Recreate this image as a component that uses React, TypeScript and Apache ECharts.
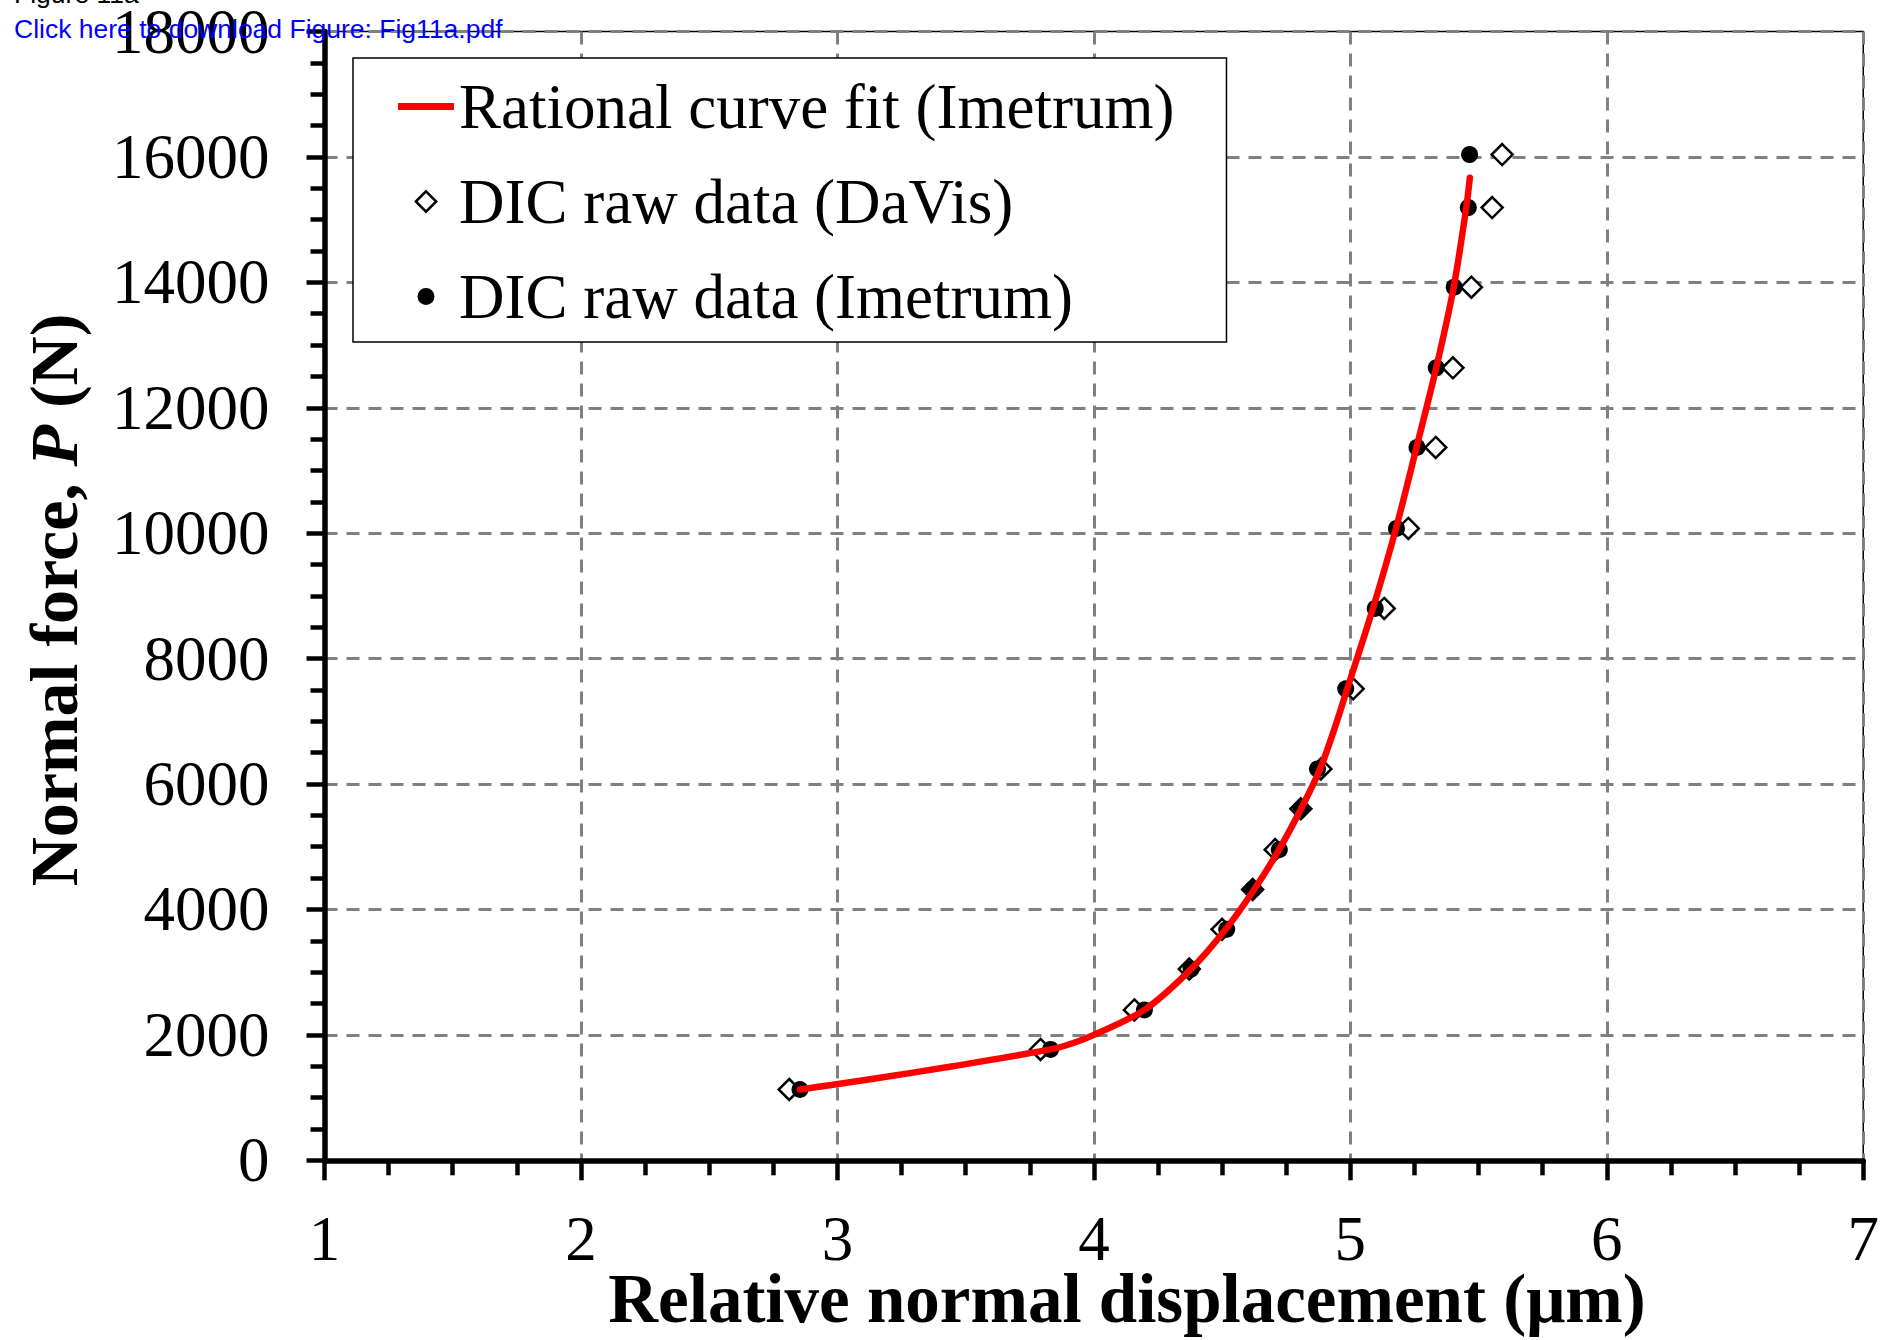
import React, { useEffect, useRef } from 'react';
import * as echarts from 'echarts';

// ---- data ----
const xTicks = [1, 2, 3, 4, 5, 6, 7];
const yTicks = [0, 2000, 4000, 6000, 8000, 10000, 12000, 14000, 16000, 18000];

const seriesNames = ['Rational curve fit (Imetrum)', 'DIC raw data (DaVis)', 'DIC raw data (Imetrum)'];

const curveX = [2.854, 3.14, 3.45, 3.831, 3.92, 4.0, 4.197, 4.379, 4.514, 4.625, 4.722, 4.808, 4.882, 4.938, 4.988, 5.088, 5.178, 5.258, 5.335, 5.403, 5.452, 5.466];
const curveP = [1129, 1300, 1500, 1768, 1870, 2000, 2398, 3049, 3684, 4319, 4954, 5605, 6240, 6880, 7519, 8800, 10075, 11367, 12637, 13922, 15192, 15668];

const davisX = [2.812, 3.792, 4.158, 4.372, 4.5, 4.619, 4.707, 4.807, 4.885, 5.011, 5.132, 5.226, 5.333, 5.4, 5.472, 5.553, 5.592];
const davisP = [1129, 1768, 2398, 3049, 3684, 4319, 4954, 5605, 6240, 7519, 8800, 10075, 11367, 12637, 13922, 15192, 16038];

const imetrumX = [2.854, 3.831, 4.197, 4.379, 4.518, 4.619, 4.723, 4.807, 4.872, 4.982, 5.097, 5.18, 5.26, 5.335, 5.405, 5.46, 5.465];
const imetrumP = [1129, 1768, 2398, 3049, 3684, 4319, 4954, 5605, 6240, 7519, 8800, 10075, 11367, 12637, 13922, 15192, 16038];

const xTitle = 'Relative normal displacement (μm)';
const headerLine1 = 'Figure 11a';
const headerLine2 = 'Click here to download Figure: Fig11a.pdf';

const SERIF = '"Liberation Serif", "Times New Roman", serif';
const SANS = '"Liberation Sans", Arial, sans-serif';

const zip = (xs: number[], ys: number[]) => xs.map((x, i) => [x, ys[i]]);

export default function App() {
  const ref = useRef<HTMLDivElement>(null);

  useEffect(() => {
    const chart = echarts.init(ref.current!, null, { renderer: 'svg' });

    const axisCommon = {
      type: 'value' as const,
      axisLine: { show: true, onZero: false, lineStyle: { color: '#000', width: 5.5 } },
      splitLine: { show: true, lineStyle: { color: '#808080', width: 3, type: [13, 9] } },
    };
    const labelStyle = {
      fontFamily: SERIF,
      fontSize: 63,
      color: '#000',
      formatter: (v: number) => String(v),
    };

    const option: any = {
      animation: false,
      backgroundColor: '#fff',
      grid: {
        left: 324.5,
        right: 16.3,
        top: 27.5,
        bottom: 179.7,
        show: true,
        borderColor: '#000',
        borderWidth: 1.5,
        containLabel: false,
      },
      xAxis: {
        ...axisCommon,
        min: xTicks[0],
        max: xTicks[xTicks.length - 1],
        interval: xTicks[1] - xTicks[0],
        axisTick: { show: true, length: 20, lineStyle: { color: '#000', width: 4.5 } },
        minorTick: { show: true, splitNumber: 4, length: 15, lineStyle: { color: '#000', width: 4.5 } },
        axisLabel: { ...labelStyle, margin: 47 },
      },
      yAxis: {
        ...axisCommon,
        min: yTicks[0],
        max: yTicks[yTicks.length - 1],
        interval: yTicks[1] - yTicks[0],
        axisTick: { show: true, length: 18, lineStyle: { color: '#000', width: 4.5 } },
        minorTick: { show: true, splitNumber: 4, length: 14, lineStyle: { color: '#000', width: 4.5 } },
        axisLabel: { ...labelStyle, margin: 55 },
      },
      legend: {
        left: 353,
        top: 58,
        orient: 'vertical',
        padding: [17, 52, 14, 45],
        itemGap: 32,
        itemWidth: 56,
        itemHeight: 22,
        borderColor: '#000',
        borderWidth: 1.5,
        backgroundColor: '#fff',
        selectedMode: false,
        textStyle: { fontFamily: SERIF, fontSize: 63, color: '#000' },
        data: [
          { name: seriesNames[0], icon: 'path://M0,0L56,0L56,7L0,7Z', itemStyle: { color: '#ff0000', borderWidth: 0, opacity: 1 } },
          {
            name: seriesNames[1],
            icon: 'path://M0,0M22,22M11,0.8L21.2,11L11,21.2L0.8,11Z',
            itemStyle: { color: '#fff', borderColor: '#000', borderWidth: 2.5, opacity: 1 },
          },
          {
            name: seriesNames[2],
            icon: 'path://M0,0M22,22M19.5,11A8.5,8.5,0,1,1,2.5,11A8.5,8.5,0,1,1,19.5,11Z',
            itemStyle: { color: '#000', borderWidth: 0, opacity: 1 },
          },
        ],
      },
      series: [
        {
          name: seriesNames[0],
          type: 'line',
          data: zip(curveX, curveP),
          showSymbol: false,
          symbol: 'none',
          smooth: 0.3,
          lineStyle: { color: '#ff0000', width: 6.5, cap: 'round', join: 'round' },
          itemStyle: { color: '#ff0000' },
        },
        {
          name: seriesNames[1],
          type: 'scatter',
          data: zip(davisX, davisP),
          symbol: 'diamond',
          symbolSize: 21,
          itemStyle: { color: '#fff', borderColor: '#000', borderWidth: 2.5, opacity: 1 },
        },
        {
          name: seriesNames[2],
          type: 'scatter',
          data: zip(imetrumX, imetrumP),
          symbol: 'circle',
          symbolSize: 17,
          itemStyle: { color: '#000', borderWidth: 0, opacity: 1 },
        },
      ],
      graphic: [
        {
          type: 'text',
          z: 100,
          x: 1127,
          y: 1299,
          style: {
            text: xTitle,
            fontFamily: SERIF,
            fontWeight: 'bold',
            fontSize: 69,
            fill: '#000',
            align: 'center',
            verticalAlign: 'middle',
          },
        },
        {
          type: 'text',
          z: 100,
          x: 54,
          y: 600,
          rotation: Math.PI / 2,
          style: {
            text: '{a|Normal force, }{b|P}{a| (N)}',
            align: 'center',
            verticalAlign: 'middle',
            rich: {
              a: { fontFamily: SERIF, fontWeight: 'bold', fontSize: 68, fill: '#000' },
              b: { fontFamily: SERIF, fontWeight: 'bold', fontStyle: 'italic', fontSize: 68, fill: '#000' },
            },
          },
        },
        {
          type: 'text',
          z: 100,
          x: 14,
          y: -6,
          style: { text: headerLine1, fontFamily: SANS, fontSize: 26.5, fill: '#000', align: 'left', verticalAlign: 'middle' },
        },
        {
          type: 'text',
          z: 100,
          x: 14,
          y: 29,
          style: { text: headerLine2, fontFamily: SANS, fontSize: 26.5, fill: '#0000ff', align: 'left', verticalAlign: 'middle' },
        },
      ],
    };

    chart.setOption(option);
    return () => chart.dispose();
  }, []);

  return (
    <div
      ref={ref}
      style={{ position: 'absolute', left: 0, top: 0, width: 1882, height: 1340, background: '#fff' }}
    />
  );
}
